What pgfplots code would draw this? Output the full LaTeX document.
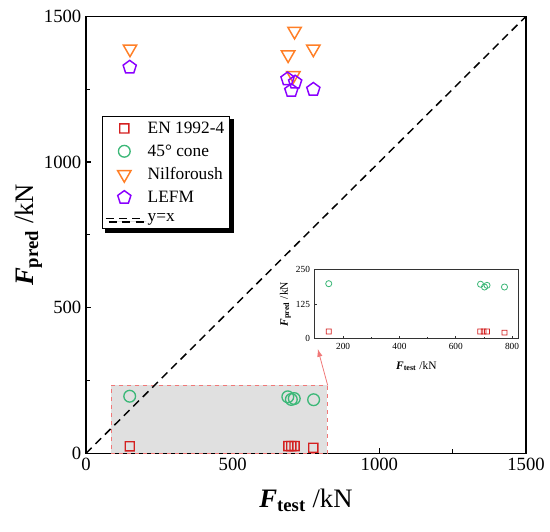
\documentclass[border=0pt]{standalone}
\usepackage{fontspec}
\setmainfont{Liberation Serif}
\usepackage{pgfplots}
\pgfplotsset{compat=1.18}
\usetikzlibrary{arrows.meta}
\definecolor{cred}{HTML}{D42020}
\definecolor{cgreen}{HTML}{3CB878}
\definecolor{corange}{HTML}{FF7F27}
\definecolor{cpurple}{HTML}{8A00FF}
\definecolor{boxred}{HTML}{F07878}
\definecolor{boxgray}{HTML}{E0E0E0}
\newdimen\sqin
\pgfdeclareplotmark{sq}{%
  \sqin=\pgfplotmarksize
  \advance\sqin by -0.26\pgfplotmarksize
  \pgfseteorule
  \pgfsetfillcolor{cred}%
  \pgfpathmoveto{\pgfqpoint{-\pgfplotmarksize}{-\pgfplotmarksize}}%
  \pgfpathlineto{\pgfqpoint{\pgfplotmarksize}{-\pgfplotmarksize}}%
  \pgfpathlineto{\pgfqpoint{\pgfplotmarksize}{\pgfplotmarksize}}%
  \pgfpathlineto{\pgfqpoint{-\pgfplotmarksize}{\pgfplotmarksize}}%
  \pgfpathclose
  \pgfpathmoveto{\pgfqpoint{-\sqin}{-\sqin}}%
  \pgfpathlineto{\pgfqpoint{\sqin}{-\sqin}}%
  \pgfpathlineto{\pgfqpoint{\sqin}{\sqin}}%
  \pgfpathlineto{\pgfqpoint{-\sqin}{\sqin}}%
  \pgfpathclose
  \pgfusepathqfill}
\pgfplotsset{ptlegend/.style={legend image code/.code={\draw[mark repeat=2,mark phase=2,##1] plot coordinates {(0pt,0pt)(14pt,0pt)(28pt,0pt)};}}}
\begin{document}
\begin{tikzpicture}
\useasboundingbox (-64.5pt,-59pt) rectangle (348pt,340pt);
\begin{axis}[
  name=main,
  scale only axis, width=330pt, height=327.75pt,
  xmin=0, xmax=1500, ymin=0, ymax=1500,
  xtick={0,500,1000,1500}, ytick={0,500,1000,1500},
  minor xtick={250,750,1250}, minor ytick={250,750,1250},
  tick align=inside, xtick pos=bottom, ytick pos=left,
  major tick length=4pt, minor tick length=3pt,
  tick style={black, line width=0.8pt},
  axis line style={line width=1pt},
  /pgf/number format/assume math mode=true,
  /pgf/number format/1000 sep={},
  ticklabel style={font=\fontsize{14}{16}\selectfont},
  xlabel={{\bfseries\itshape F}\textsubscript{\bfseries test} /kN},
  ylabel={{\bfseries\itshape F}\textsubscript{\bfseries pred} /kN},
  label style={font=\fontsize{20}{24}\selectfont},
  xlabel style={at={(axis description cs:0.5,-0.107)}, anchor=center},
  ylabel style={at={(axis description cs:-0.13,0.5)}, anchor=center},
  legend style={at={(0.036,0.772)}, anchor=north west, draw=black, line width=0.6pt, fill=white,
    font=\fontsize{13}{15}\selectfont, row sep=3pt, column sep=1pt, inner sep=2pt,
    preaction={fill=black, draw=black, transform canvas={xshift=2.5pt, yshift=-2.5pt}}},
  legend cell align=left,
]
\addplot[fill=boxgray, draw=boxred, dashed, line width=0.5pt, forget plot]
  coordinates {(86,0) (823,0) (823,233) (86,233)} -- cycle;
\addplot[only marks, mark=sq, mark size=3.9pt, color=cred, ptlegend]
  coordinates {(149,24) (690,25) (700,25) (711,25) (775,19)};
\addlegendentry{EN 1992-4}
\addplot[only marks, mark=o, mark size=4.4pt, cgreen, line width=1pt, ptlegend]
  coordinates {(149,196) (688,194) (700,185) (710,188) (776,184)};
\addlegendentry{45° cone}
\addplot[only marks, mark=triangle, mark size=5.8pt, corange, line width=1.1pt, ptlegend,
  mark options={rotate=180}]
  coordinates {(150,1388) (711,1449) (689,1368) (775,1388) (707,1297)};
\addlegendentry{Nilforoush}
\addplot[only marks, mark=pentagon, mark size=5.2pt, cpurple, line width=1.1pt, ptlegend]
  coordinates {(149,1325) (687,1285) (713,1274) (700,1245) (775,1249)};
\addlegendentry{LEFM}
\addplot[black, line width=1.1pt, dash pattern=on 6pt off 4pt, ptlegend]
  coordinates {(0,0) (1500,1500)};
\addlegendentry{y=x}
\draw[boxred, line width=0.6pt, -{Latex[length=6pt,width=4pt]}] (axis cs:824,233) -- (axis cs:790,359);
\end{axis}
\begin{axis}[
  at={(171.5pt,86pt)}, anchor=south west,
  scale only axis, width=152.5pt, height=51.8pt,
  xmin=99, xmax=821, ymin=0, ymax=250,
  xtick={200,400,600,800}, minor xtick={300,500,700},
  ytick={0,125,250},
  tick align=inside, xtick pos=bottom, ytick pos=left,
  major tick length=2pt, minor tick length=1.5pt,
  tick style={black!80, line width=0.5pt},
  axis line style={black!80, line width=0.7pt},
  axis background/.style={fill=white},
  /pgf/number format/assume math mode=true,
  /pgf/number format/1000 sep={},
  ticklabel style={font=\fontsize{7}{8}\selectfont},
  xlabel={{\bfseries\itshape F}\textsubscript{\bfseries test} /kN},
  ylabel={{\bfseries\itshape F}\textsubscript{\bfseries pred} /kN},
  label style={font=\fontsize{8.6}{10}\selectfont},
  xlabel style={at={(axis description cs:0.5,-0.40)}, anchor=center},
  ylabel style={at={(axis description cs:-0.144,0.5)}, anchor=center},
]
\addplot[only marks, mark=o, mark size=2.3pt, cgreen, line width=0.6pt]
  coordinates {(149,199) (688,197) (702,187) (711,193) (773,187)};
\addplot[only marks, mark=sq, mark size=2.1pt, color=cred]
  coordinates {(149,26) (687,26) (699,26) (711,26) (773,22)};
\end{axis}
\end{tikzpicture}
\end{document}
